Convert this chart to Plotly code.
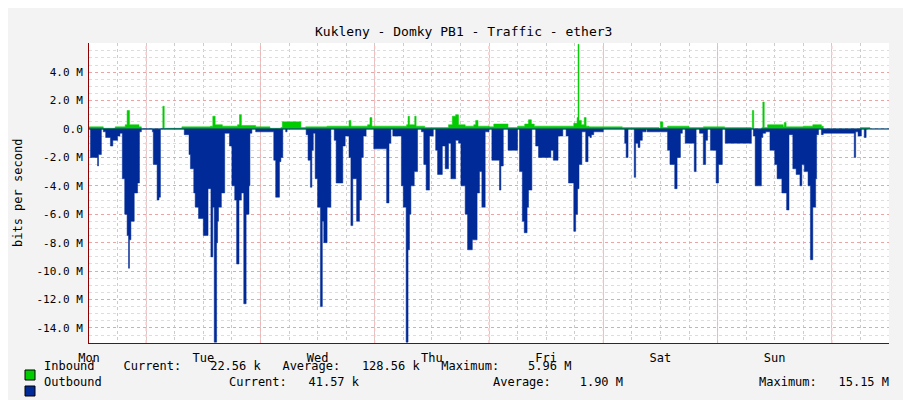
import plotly.graph_objects as go

# hours since Monday 00:00, values in Mbit/s
out_hours = [0, 0.3, 1.5, 1.8, 2.0, 2.6, 3.0, 3.5, 4.5, 5.0, 6.0, 6.5, 7.0, 7.5, 8.0, 8.3, 8.5, 8.8, 9.5, 10.2, 10.6,
             11, 13.3, 13.5, 14.3, 14.7, 15.0, 19.5, 20.0, 21.0, 21.3, 22.0, 22.3, 23.0, 24.0, 25.0, 25.6, 26.0,
             26.3, 26.8, 27.0, 27.2, 27.8, 28.5, 29.5, 30.0, 30.6, 31.0, 31.5, 32.0, 32.5, 33.0, 33.6, 33.8, 34.2, 34.7,
             35.0, 38.8, 39.2, 40.0, 40.3, 40.7, 41.3, 41.6, 45.6, 46.0, 46.5, 46.8, 47.1, 47.5, 48.0, 48.6, 49.0, 49.3,
             50.0, 50.8, 51.5, 51.9, 53.3, 53.8, 54.6, 55.0, 55.4, 56.2, 56.8, 57.2, 57.6, 58.2, 58.8, 59.5, 59.8,
             62.5, 63.0, 63.4, 63.8, 65.6, 66.0, 66.6, 67.0, 67.3, 67.6, 68.3, 69.0, 69.8, 70.3, 70.8, 71.5, 72.3,
             72.8, 73.2, 74.2, 74.8, 75.5, 76.0, 77.0, 77.6, 78.1, 79.0, 79.5, 80.5, 81.5, 82.0, 82.5, 83.2, 84.0, 84.6,
             86.2, 86.5, 87.0, 87.5, 88.0, 90.0, 90.2, 90.4, 91.0, 91.4, 92.0, 92.3, 93.0, 93.8, 94.4, 97.0, 97.5,
             98.5, 99.5, 100.2, 100.7, 101.8, 102.2, 102.6, 102.9, 103.5, 104.3, 104.8, 105.2, 105.5, 106.0, 108.0,
             112.5, 112.8, 113.2, 113.4, 114.5, 114.8, 115.3, 115.7, 116.2, 117.0, 117.2, 121.5, 122.0, 123.0,
             123.5, 124.2, 124.6, 125.2, 127.1, 127.5, 128.2, 129.0, 129.5, 129.9, 130.5, 131.7, 132.2, 133.0,
             133.6, 139.1, 139.5, 139.9, 141.2, 141.5, 142.1, 143.0, 144.0, 144.5, 145.5, 146.5, 147.0, 147.8,
             148.5, 149.3, 149.7, 150.2, 151.0, 151.5, 152.0, 152.6, 152.8, 153.2, 153.8, 154.2, 160.7, 161.0,
             161.5, 162.2, 162.8, 163.2, 163.6, 164.0, 168]
out_mbps = [0, -2.0, -2.0, -2.6, -1.8, 0, -0.2, -0.6, -1.2, -0.8, -0.5, -0.3, -3.5, -6.0, -7.5, -9.8, -7.8, -6.5, -4.5, -3.8, -0.2,
            0, -0.2, -2.5, -5.0, -4.8, 0, 0, -0.4, -1.8, -2.8, -4.5, -5.5, -6.3, -7.5, -4.2, -9.0, -5.5,
            -15.0, -8.0, -6.5, -5.5, -4.5, -0.3, -1.2, -4.0, -5.0, -9.5, -5.0, -4.5, -12.3, -6.0, -4.0, -0.3,
            0, 0, -0.2, -2.2, -4.8, -2.3, -2.0, 0, -0.2, 0, -0.4, -2.2, -4.1, -1.5, -0.3, -3.5, -5.5, -12.5,
            -6.5, -8.0, -5.5, 0, -0.8, -3.8, -1.2, -0.5, -2.0, -6.8, -3.5, -6.5, -5.0, -2.0, -0.5, 0, 0, 0,
            -1.4, -5.2, -1.0, 0, -0.5, -4.0, -5.5, -15.0, -8.5, -6.0, -4.0, -3.0, 0, -0.2, -2.5, -4.3, -0.5, 0,
            -1.5, -3.2, -1.2, -2.8, -1.0, -3.5, -0.8, -1.0, -4.0, -6.0, -8.5, -7.8, -4.5, -3.0, -5.5, -0.2, 0,
            -2.2, -4.3, -2.6, 0, 0, -1.5, 0, 0, -3.0, -6.5, -7.3, -5.5, -4.3, 0, -1.2, -2.0, -1.5, -2.2, -0.5, 0,
            -0.5, -3.8, -7.2, -6.0, -4.2, -2.5, -0.2, -2.3, -0.5, -0.6, -0.4, -0.2, 0, -1.0, -2.0, 0, 0, -3.4, -1.0,
            -1.3, -0.8, -0.2, 0, -0.2, -1.5, -2.5, -4.2, -2.0, -0.3, 0, -1.0, -3.0, 0, -0.3, -2.5, -0.8, 0, -1.5,
            -3.8, -2.5, 0, -1.0, 0, -0.5, -4.0, -0.6, -0.3, -0.2, -1.5, -2.5, -3.5, -4.5, -5.7, -0.4, -2.8, -3.2, -4.0,
            -2.5, -3.0, -4.0, -9.2, -5.5, -3.5, -0.4, 0, -0.4, -0.3, -2.0, -0.2, -0.5, 0, -0.6, 0, 0]

in_hours = [0, 3.0, 5.5, 7.6, 8.0, 8.5, 10.5, 11, 15.2, 15.5, 15.8, 16, 19.5, 25.5, 26.0, 26.5, 28.0, 31.2, 31.6, 32.0, 35.0,
            38.0, 40.3, 40.6, 44.5, 45.5, 50, 54.3, 54.6, 55.0, 58.5, 59.0, 59.4, 62.0, 66.7, 67.0, 67.3, 68.1,
            68.4, 68.7, 70.5, 75.5, 76.3, 77.0, 77.6, 79.0, 80.8, 81.2, 81.7, 84.0, 85.0, 88.0, 90.0, 91.5, 92.3,
            92.9, 93.5, 97.0, 100.6, 101.8, 102.5, 102.7, 102.9, 103.4, 104.0, 104.4, 105.0, 112.0, 116.0, 119.7,
            120.0, 120.5, 121.5, 126.0, 129.0, 133.5, 139.1, 139.3, 139.6, 141.3, 141.5, 141.8, 142.5, 145.8, 146.0,
            146.4, 150.0, 152.0, 153.8, 154.2, 160.7, 162.0, 163.5, 164.0, 168]
in_mbps = [0.15, 0.05, 0.15, 0.3, 1.3, 0.3, 0.15, 0, 0, 1.6, 0, 0.05, 0.15, 0.2, 0.9, 0.3, 0.2, 0.3, 1.0, 0.25, 0.15,
           0.05, 0.1, 0.5, 0.1, 0.15, 0.2, 0.2, 0.6, 0.2, 0.3, 0.8, 0.2, 0.2, 0.3, 0.9, 0.3, 0.3, 0.9, 0.2, 0.1,
           0.3, 0.9, 1.0, 0.3, 0.2, 0.3, 0.6, 0.2, 0.15, 0.35, 0.1, 0.2, 0.35, 0.65, 0.35, 0.2, 0.2, 0.2, 0.4, 0.8,
           5.96, 0.6, 0.3, 0.8, 0.2, 0.15, 0.1, 0.1, 0.05, 0.5, 0.1, 0.2, 0.1, 0.15, 0.1, 0, 1.3, 0, 0.1, 1.9, 0.1,
           0.3, 0.15, 0.45, 0.15, 0.2, 0.3, 0.2, 0, 0, 0.1, 0.1, 0, 0]

day_labels = ["Mon", "Tue", "Wed", "Thu", "Fri", "Sat", "Sun"]
y_ticks = [4, 2, 0, -2, -4, -6, -8, -10, -12, -14]
y_labels = ["4.0 M", "2.0 M", "0.0", "-2.0 M", "-4.0 M", "-6.0 M", "-8.0 M",
            "-10.0 M", "-12.0 M", "-14.0 M"]

inbound_stats = ["22.56 k", "128.56 k", "5.96 M"]
outbound_stats = ["41.57 k", "1.90 M", "15.15 M"]

mono = "DejaVu Sans Mono"
W, H = 911, 400
L, R, T, B = 81, 30, 35, 65
pw = W - L - R


def px(x):
    return (x - L) / pw


def py(y):
    return (H - B - y) / (H - T - B)


def nb(s):
    # keep runs of spaces in annotations
    return s.replace(" ", "\u00a0")


fig = go.Figure()
fig.add_trace(go.Scatter(x=out_hours, y=[v * 1e6 for v in out_mbps], mode="lines", fill="tozeroy",
                         line=dict(color="#002A97", width=0.5, shape="hv"), fillcolor="#002A97", hoverinfo="skip"))
fig.add_trace(go.Scatter(x=in_hours, y=[v * 1e6 for v in in_mbps], mode="lines", fill="tozeroy",
                         line=dict(color="#00CC00", width=0.5, shape="hv"), fillcolor="#00CC00", hoverinfo="skip"))

shapes = []
# noon major grid (red dotted)
for d in range(7):
    shapes.append(dict(type="line", xref="x", yref="paper", x0=24 * d + 12, x1=24 * d + 12, y0=0, y1=1,
                       line=dict(color="rgba(240,140,140,0.7)", width=1, dash="dot"), layer="below"))
# zero line
shapes.append(dict(type="line", xref="paper", yref="y", x0=0, x1=1, y0=0, y1=0,
                   line=dict(color="#002A97", width=1)))
# legend swatches
for yy, col in [(367, "#00CC00"), (383, "#002A97")]:
    shapes.append(dict(type="rect", xref="paper", yref="paper", x0=px(17), x1=px(27), y0=py(yy - 5), y1=py(yy + 5),
                       fillcolor=col, line=dict(color="black", width=1)))

ann = [
    dict(text="Kukleny - Domky PB1 - Traffic - ether3", x=px(455), y=py(14), font=dict(size=13)),
    dict(text="bits per second", x=px(10), y=py(185), textangle=-90, font=dict(size=12)),
    dict(text="RRDTOOL / TOBI OETIKER", x=px(901), y=py(100), textangle=90, font=dict(size=7, color="#999")),
    dict(text=nb("Inbound    Current:   %8s   Average:  %9s   Maximum:  %8s" % tuple(inbound_stats)),
         x=px(34), y=py(367), xanchor="left"),
    dict(text="Outbound", x=px(34), y=py(383), xanchor="left"),
    dict(text=nb("Current:   %s" % outbound_stats[0]), x=px(219), y=py(383), xanchor="left"),
    dict(text=nb("Average:    %s" % outbound_stats[1]), x=px(483), y=py(383), xanchor="left"),
    dict(text=nb("Maximum:   %s" % outbound_stats[2]), x=px(749), y=py(383), xanchor="left"),
]
for a in ann:
    a.update(xref="paper", yref="paper", showarrow=False)
    a.setdefault("xanchor", "center")
    a.setdefault("font", dict(size=12))
    a["font"].setdefault("family", mono)
    a["font"].setdefault("color", "black")

fig.update_layout(
    width=W, height=H, margin=dict(l=L, r=R, t=T, b=B, autoexpand=False),
    paper_bgcolor="#F3F3F3", plot_bgcolor="white", showlegend=False,
    font=dict(family=mono, size=12, color="black"),
    shapes=shapes, annotations=ann,
    xaxis=dict(range=[0, 168], tickvals=[24 * i for i in range(7)], ticktext=day_labels, automargin=False,
               showgrid=False, zeroline=False, ticks="outside", ticklen=4, tickcolor="rgba(0,0,0,0)",
               showline=True, linecolor="#8B0000",
               minor=dict(dtick=6, tick0=0, showgrid=True, gridcolor="#CCCCCC", griddash="dot")),
    yaxis=dict(range=[-15.06e6, 6.05e6], tickvals=[v * 1e6 for v in y_ticks], ticktext=y_labels, automargin=False,
               tickfont=dict(size=11),
               showgrid=True, gridcolor="rgba(240,140,140,0.7)", griddash="dot", zeroline=False,
               ticks="outside", ticklen=3, tickcolor="rgba(0,0,0,0)", showline=True, linecolor="#8B0000",
               minor=dict(dtick=0.5e6, showgrid=True, gridcolor="#DDDDDD", griddash="dot")),
)
fig.write_html("out.html")
